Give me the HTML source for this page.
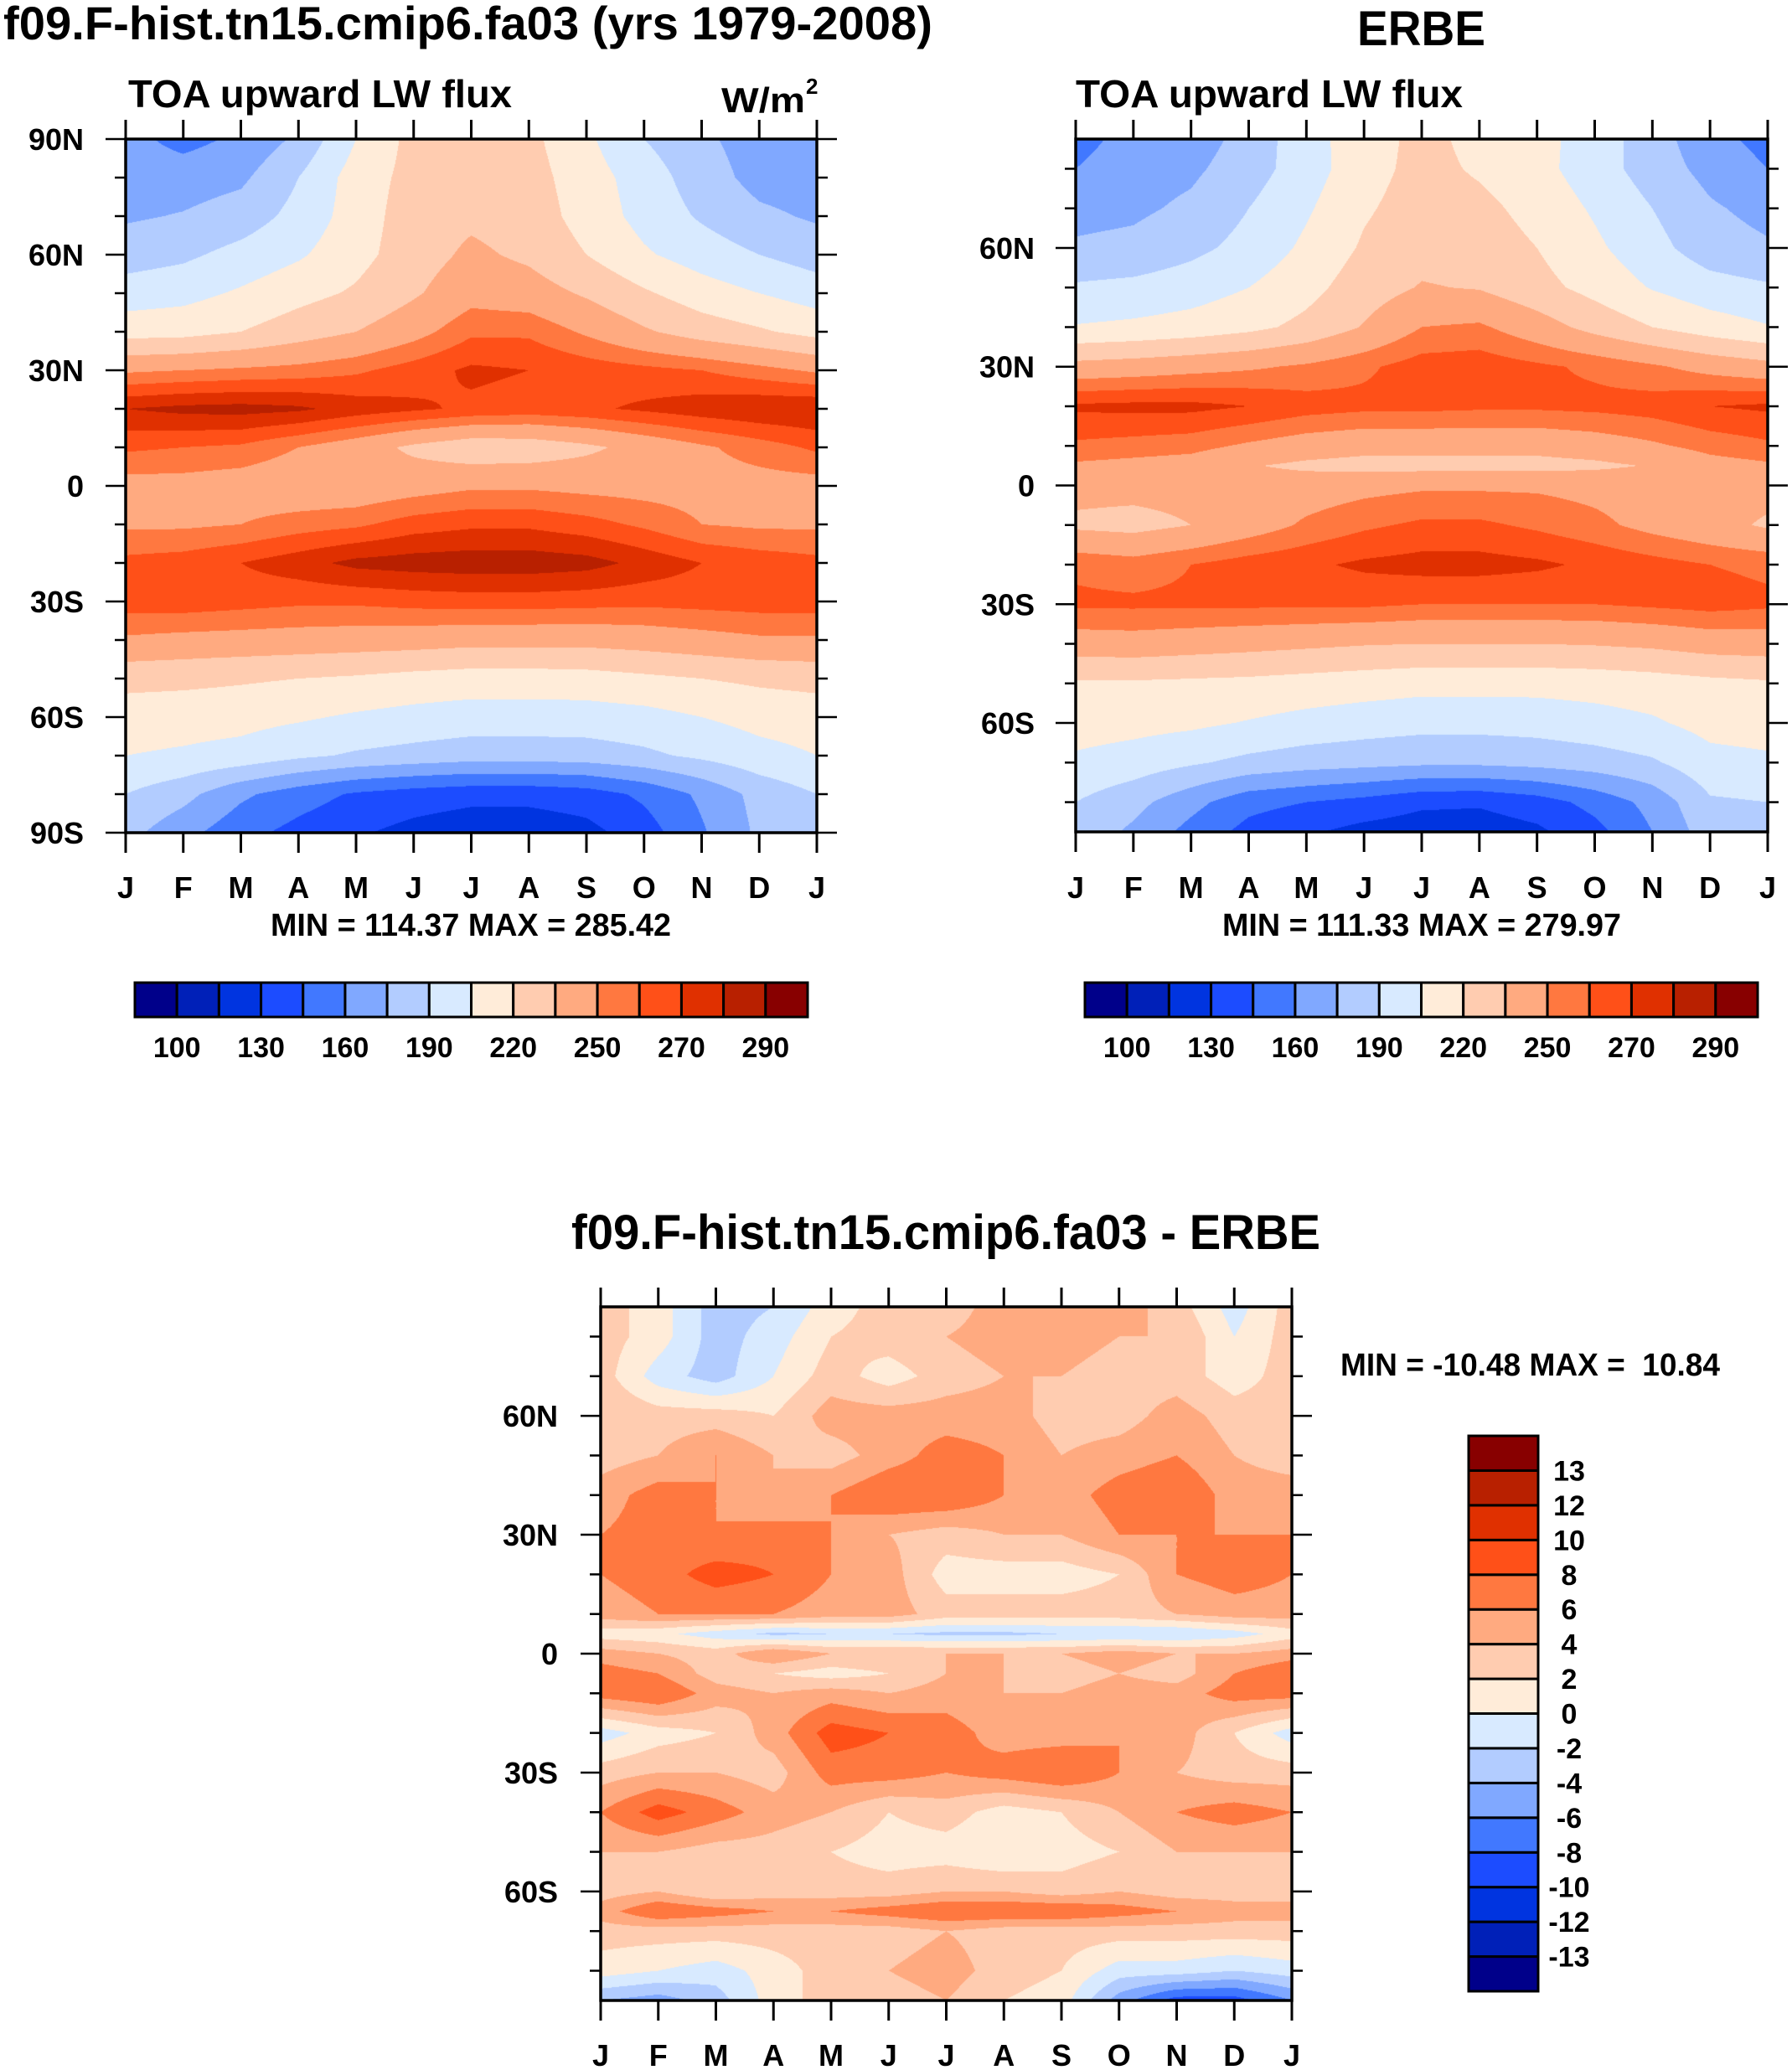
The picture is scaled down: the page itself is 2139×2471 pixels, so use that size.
<!DOCTYPE html>
<html><head><meta charset="utf-8">
<style>
html,body{margin:0;padding:0;background:#fff;}
#wrap{position:relative;width:2139px;height:2471px;overflow:hidden;background:#fff;}
canvas{position:absolute;}
svg{position:absolute;left:0;top:0;}
text{font-family:"Liberation Sans",Arial,sans-serif;font-weight:bold;fill:#000;}
</style></head>
<body>
<div id="wrap">
<canvas id="c1" width="825" height="828" style="left:150px;top:166px"></canvas>
<canvas id="c2" width="826" height="827" style="left:1284px;top:166px"></canvas>
<canvas id="c3" width="825" height="828" style="left:717px;top:1560px"></canvas>
<svg id="ov" width="2139" height="2471">
<text x="4" y="47" font-size="56" textLength="1109" lengthAdjust="spacingAndGlyphs">f09.F-hist.tn15.cmip6.fa03 (yrs 1979-2008)</text>
<text x="153" y="128" font-size="46" textLength="458" lengthAdjust="spacingAndGlyphs">TOA upward LW flux</text>
<text x="861" y="134" font-size="42" textLength="100" lengthAdjust="spacingAndGlyphs">W/m</text>
<text x="962" y="112" font-size="26">2</text>
<text x="1620" y="54" font-size="58" textLength="153" lengthAdjust="spacingAndGlyphs">ERBE</text>
<text x="1284" y="128" font-size="46" textLength="462" lengthAdjust="spacingAndGlyphs">TOA upward LW flux</text>
<text x="323" y="1117" font-size="38" textLength="478" lengthAdjust="spacingAndGlyphs">MIN = 114.37 MAX = 285.42</text>
<text x="1459" y="1117" font-size="38" textLength="476" lengthAdjust="spacingAndGlyphs">MIN = 111.33 MAX = 279.97</text>
<text x="682" y="1491" font-size="58" textLength="894" lengthAdjust="spacingAndGlyphs">f09.F-hist.tn15.cmip6.fa03 - ERBE</text>
<text x="1600" y="1642" font-size="38" textLength="453" lengthAdjust="spacingAndGlyphs" xml:space="preserve">MIN = -10.48 MAX =  10.84</text>
</svg>
</div>
<script>
// ---------------- DATA ----------------
var months = ["J","F","M","A","M","J","J","A","S","O","N","D","J"];
var fluxLevels = [100,115,130,145,160,175,190,205,220,235,250,260,270,280,290];
var fluxLabels = ["100","","130","","160","","190","","220","","250","","270","","290"];
var diffLevels = [-13,-12,-10,-8,-6,-4,-2,0,2,4,6,8,10,12,13];
var diffLabels = ["-13","-12","-10","-8","-6","-4","-2","0","2","4","6","8","10","12","13"];
var palette = ["#00008a","#0020b8","#0034e0","#1c4cff","#4178ff","#80a8ff","#b2ccff","#d8eaff","#ffecd9","#ffccb0","#ffaa80","#ff7840","#ff5018","#e03000","#b82000","#880000"];

var modelLats = [90,80,70,60,50,40,30,20,10,0,-10,-20,-30,-40,-50,-60,-70,-80,-90];
var modelVals = [
[165,155,163,178,205,225,228,224,208,190,178,168,165],
[168,168,172,190,212,225,230,226,212,198,182,170,168],
[173,176,182,195,212,228,232,228,214,200,188,178,173],
[183,187,195,203,215,228,238,232,220,207,198,190,183],
[197,200,207,215,222,233,245,242,233,222,212,205,198],
[214,215,220,228,235,245,258,258,248,237,228,222,215],
[248,250,252,254,258,265,272,270,266,263,260,254,248],
[280,283,284,282,276,272,268,266,268,272,276,279,280],
[262,260,258,250,242,232,225,226,232,240,248,255,262],
[245,245,243,240,240,244,248,248,246,245,245,245,245],
[248,248,250,255,258,265,268,268,264,258,250,248,248],
[263,265,270,276,283,285,286,286,284,277,270,266,263],
[265,266,264,262,262,264,265,265,264,263,264,265,265],
[248,246,245,244,243,242,240,240,240,242,245,248,248],
[225,224,222,220,218,215,213,213,214,217,220,223,225],
[212,211,210,207,203,200,198,198,198,200,205,210,212],
[205,203,200,193,188,185,182,182,183,187,193,200,205],
[190,180,163,152,143,138,135,135,138,148,163,180,190],
[180,165,150,140,132,125,120,120,125,138,158,178,180]];

var erbeLats = [87.5,80,70,60,50,40,30,20,10,5,0,-10,-20,-30,-40,-50,-60,-70,-80,-87.5];
var erbeVals = [
[155,165,168,180,200,212,225,215,210,198,182,165,155],
[160,168,172,183,198,214,225,218,210,197,183,170,160],
[170,172,178,190,203,218,227,224,215,203,190,177,170],
[177,179,186,195,208,222,230,228,220,208,195,182,177],
[192,194,198,205,215,228,236,234,225,215,204,196,192],
[206,208,211,216,224,236,250,252,242,230,220,212,206],
[240,242,245,248,252,258,265,266,262,258,252,245,240],
[272,273,273,270,265,263,263,262,262,263,265,270,272],
[258,256,254,248,243,240,240,240,240,243,248,254,258],
[248,246,244,236,232,230,230,230,230,232,236,245,248],
[240,240,240,241,243,246,248,248,248,246,244,242,240],
[232,230,235,243,252,258,262,262,258,253,246,240,233],
[258,255,260,265,268,272,274,274,272,268,264,260,258],
[262,262,262,262,262,262,260,260,260,260,262,264,262],
[243,244,242,240,238,236,235,235,235,236,238,242,243],
[218,218,217,216,214,212,210,210,210,211,213,216,218],
[212,210,208,204,200,197,195,195,196,199,203,210,212],
[202,198,192,186,182,180,178,178,180,183,188,200,202],
[190,180,165,150,145,140,133,132,138,150,165,188,190],
[185,172,155,140,132,125,122,122,127,140,160,183,185]];

var diffLats = [87.5,80,70,60,50,40,30,20,10,5,0,-5,-10,-20,-30,-40,-50,-60,-65,-70,-80,-87.5];
var diffVals = [
[3,1,-3,-2,1,3,3,5,4,5,3,-1,3],
[3,1,-3,-1,2,3,4,5,5,4,4,0,3],
[3,-1,-3,0,3,1,3,4,4,3,3,1,3],
[4,3,3,2,5,5,5,5,3,3,5,3,3],
[3,4,6,4,3,5,7,6,4,5,6,4,3],
[5,7,6,4,6,8,8,6,5,7,8,5,5],
[6,7,6,7,6,4,3,4,4,6,6,6,6],
[6,7,9,8,6,5,1,1,1,2,6,7,6],
[5,6,6,6,5,5,3,3,3,3,4,5,5],
[1,0.5,-1,-2.5,-2,-2,-2.5,-2.5,-2,-2,-2,-1,1],
[5,4,3,6,4,4,4,4,4,5,4,4,5],
[7,6,3,2,1,2,4,4,3,4,3,6,8],
[7,8,5,4,5,4,5,4,4,5,5,7,7],
[-1,1,2,5,9,8,7,5,5,6,5,2,-1],
[3,4,4,3,7,7,6,7,8,6,4,3,3],
[6,9,7,5,4,2,3,1,2,4,6,7,6],
[4,4,3,3,2,1,1,0,1,2,4,4,4],
[3,4,2,3,3,3,4,4,3,4,3,3,3],
[5,8,7,6,6,7,8,8,8,7,6,5,5],
[3,3,3,3,3,3,4,3,3,3,3,3,3],
[1,0,-1,1,3,4,5,3,2,-1,-1,-2,-1],
[-4,-5,-3,1,3,3,4,2,1,-5,-9,-9,-6]];

// ---------------- RENDER ----------------
var NS = "http://www.w3.org/2000/svg";
var ov = document.getElementById("ov");
function hexRgb(h){return [parseInt(h.substr(1,2),16),parseInt(h.substr(3,2),16),parseInt(h.substr(5,2),16)];}
var palRgb = palette.map(hexRgb);
function levelIndex(v, levels){var k=0;while(k<levels.length && v>=levels[k])k++;return k;}

function sample(lats, vals, lat, mf){
  var n=lats.length, i=0, t=0;
  if(lat>=lats[0]) {i=0; t=0;}
  else if(lat<=lats[n-1]) {i=n-2; t=1;}
  else { while(i<n-2 && lat<lats[i+1]) i++; t=(lats[i]-lat)/(lats[i]-lats[i+1]); }
  var j=Math.min(11,Math.floor(mf)); var s=mf-j;
  var a=vals[i][j]*(1-s)+vals[i][j+1]*s;
  var b=vals[i+1][j]*(1-s)+vals[i+1][j+1]*s;
  return a*(1-t)+b*t;
}

function drawField(id, lats, vals, levels, latTop, latBot){
  var cv=document.getElementById(id), ctx=cv.getContext("2d");
  var W=cv.width,H=cv.height, img=ctx.createImageData(W,H), d=img.data;
  for(var y=0;y<H;y++){
    var lat=latTop-(y+0.5)/H*(latTop-latBot);
    for(var x=0;x<W;x++){
      var mf=(x+0.5)/W*12;
      var c=palRgb[levelIndex(sample(lats,vals,lat,mf),levels)];
      var p=(y*W+x)*4; d[p]=c[0];d[p+1]=c[1];d[p+2]=c[2];d[p+3]=255;
    }
  }
  ctx.putImageData(img,0,0);
}

function line(x1,y1,x2,y2,w,name){
  var l=document.createElementNS(NS,"line");
  l.setAttribute("x1",x1);l.setAttribute("y1",y1);l.setAttribute("x2",x2);l.setAttribute("y2",y2);
  l.setAttribute("stroke","#000");l.setAttribute("stroke-width",w);
  
  
  ov.appendChild(l);
}
function txt(x,y,s,size,anchor,name){
  var t=document.createElementNS(NS,"text");
  t.setAttribute("x",x);t.setAttribute("y",y);t.setAttribute("font-size",size);
  t.setAttribute("text-anchor",anchor);t.textContent=s;
  
  
  ov.appendChild(t);
}
function latLabel(l){return l===0?"0":(Math.abs(l)+(l>0?"N":"S"));}

function drawAxes(px0,px1,py0,py1,latTop,latBot,labelRight,monthY,prefix){
  function yOf(l){return py0+(latTop-l)/(latTop-latBot)*(py1-py0);}
  var r=document.createElementNS(NS,"rect");
  r.setAttribute("x",px0);r.setAttribute("y",py0);r.setAttribute("width",px1-px0);r.setAttribute("height",py1-py0);
  r.setAttribute("fill","none");r.setAttribute("stroke","#000");r.setAttribute("stroke-width",3.5);
  
  
  ov.appendChild(r);
  for(var l=90;l>=-90;l-=10){
    if(l>latTop||l<latBot) continue;
    var y=yOf(l), major=(l%30===0);
    var len=major?24:13;
    line(px0-len,y,px0,y,2.5,prefix+'-y-tick');
    line(px1,y,px1+len,y,2.5,prefix+'-y-tick-right');
    if(major) txt(labelRight,y+13,latLabel(l),36,"end",prefix+'-y-tick-label');
  }
  for(var m=0;m<13;m++){
    var x=px0+m/12*(px1-px0);
    line(x,py0-23,x,py0,3,prefix+'-x-tick-top');
    line(x,py1,x,py1+24,3,prefix+'-x-tick');
    txt(x,monthY,months[m],36,"middle",prefix+'-x-tick-label');
  }
}

function hColorbar(x0,x1,y0,y1,labelY,prefix){
  var n=palette.length, w=(x1-x0)/n;
  for(var k=0;k<n;k++){
    var b=document.createElementNS(NS,"rect");
    b.setAttribute("x",x0+k*w);b.setAttribute("y",y0);b.setAttribute("width",w);b.setAttribute("height",y1-y0);
    b.setAttribute("fill",palette[k]);b.setAttribute("stroke","#000");b.setAttribute("stroke-width",3);
    
    
    ov.appendChild(b);
  }
  for(var i=0;i<fluxLabels.length;i++){
    if(fluxLabels[i]) txt(x0+(i+1)*w,labelY,fluxLabels[i],34,"middle",prefix+'-colorbar-label');
  }
}
function vColorbar(x0,x1,y0,y1,labelX){
  var n=palette.length, h=(y1-y0)/n;
  for(var k=0;k<n;k++){
    var b=document.createElementNS(NS,"rect");
    b.setAttribute("x",x0);b.setAttribute("y",y0+(n-1-k)*h);b.setAttribute("width",x1-x0);b.setAttribute("height",h);
    b.setAttribute("fill",palette[k]);b.setAttribute("stroke","#000");b.setAttribute("stroke-width",3);
    
    
    ov.appendChild(b);
  }
  for(var i=0;i<diffLabels.length;i++){
    var yb=y0+(n-1-i)*h;
    txt(labelX,yb+12,diffLabels[i],34,"middle",'difference-colorbar-label');
  }
}

drawField("c1",modelLats,modelVals,fluxLevels,90,-90);
drawField("c2",erbeLats,erbeVals,fluxLevels,87.5,-87.5);
drawField("c3",diffLats,diffVals,diffLevels,87.5,-87.5);

drawAxes(150,975,166,994,90,-90,100,1072,'model');
drawAxes(1284,2110,166,993,87.5,-87.5,1235,1072,'erbe');
drawAxes(717,1542,1560,2388,87.5,-87.5,666,2466,'difference');

hColorbar(161,964,1173,1214,1262,'model');
hColorbar(1295,2098,1173,1214,1262,'erbe');
vColorbar(1753,1836,1714,2377,1873);
</script>
</body></html>
